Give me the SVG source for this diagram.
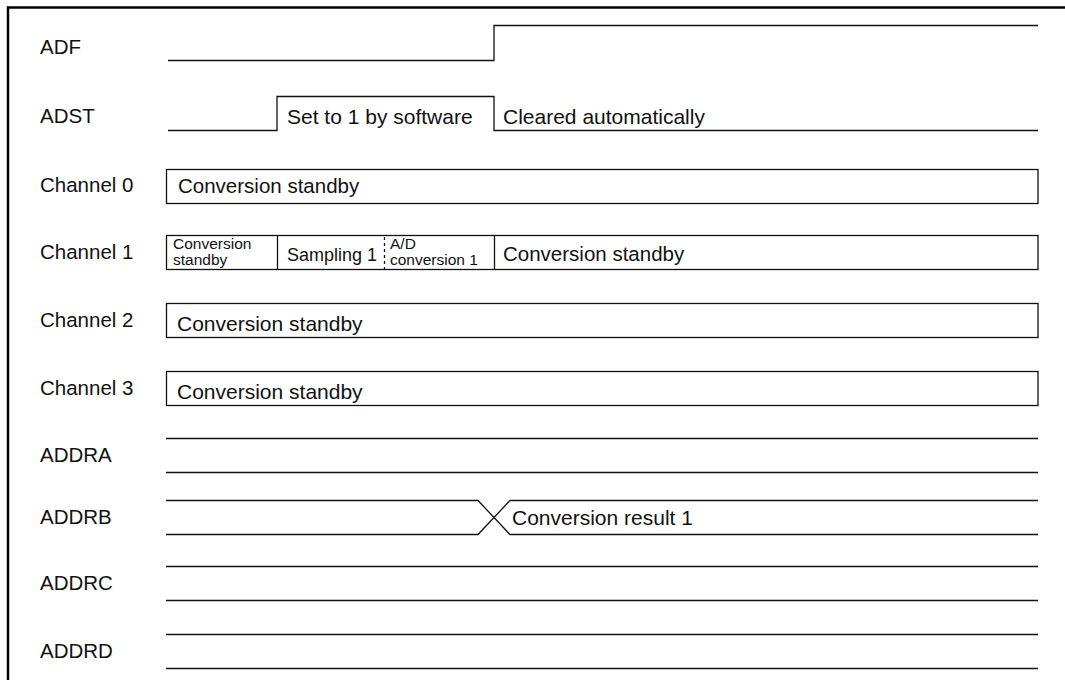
<svg xmlns="http://www.w3.org/2000/svg" width="1065" height="680" viewBox="0 0 1065 680">
<style>
text{font-family:"Liberation Sans",Arial,sans-serif;font-size:20.5px;fill:#111}
.s{font-size:15.5px}
.m{font-size:18px}
.l{font-size:21px}
.w{fill:none;stroke:#111;stroke-width:1.3}
.b{fill:#fff;stroke:#111;stroke-width:1.3}
</style>
<rect width="1065" height="680" fill="#fff"/>
<path d="M8,690 V7.5 H1075" fill="none" stroke="#000" stroke-width="2.5"/>
<g id="labels">
<text x="40" y="54">ADF</text>
<text x="40" y="123">ADST</text>
<text x="40" y="192">Channel 0</text>
<text x="40" y="259">Channel 1</text>
<text x="40" y="327">Channel 2</text>
<text x="40" y="395">Channel 3</text>
<text x="40" y="462">ADDRA</text>
<text x="40" y="524">ADDRB</text>
<text x="40" y="590">ADDRC</text>
<text x="40" y="658">ADDRD</text>
</g>
<g id="connectors">
<path class="w" d="M168,60.5 H494 V25.5 H1038"/>
<path class="w" d="M168,130.5 H277 V96.5 H494 V130.5 H1038"/>
</g>
<g id="adst">
<text class="l" x="287" y="124">Set to 1 by software</text>
<text class="l" x="503" y="124">Cleared automatically</text>
</g>
<g id="ch0">
<rect class="b" x="166.5" y="169.5" width="871.5" height="34"/>
<text x="178" y="193">Conversion standby</text>
</g>
<g id="ch1">
<rect class="b" x="166.5" y="235.5" width="871.5" height="34"/>
<path class="w" d="M277.5,235.5 V269.5 M494.5,235.5 V269.5"/>
<path class="w" d="M384.5,237 V269.5" stroke-dasharray="3,3"/>
<text class="s" x="173" y="249">Conversion</text>
<text class="s" x="173" y="265">standby</text>
<text class="m" x="287" y="261">Sampling 1</text>
<text class="s" x="390" y="249">A/D</text>
<text class="s" x="390" y="265">conversion 1</text>
<text x="503" y="261">Conversion standby</text>
</g>
<g id="ch2">
<rect class="b" x="166.5" y="303.5" width="871.5" height="34"/>
<text class="l" x="177" y="331">Conversion standby</text>
</g>
<g id="ch3">
<rect class="b" x="166.5" y="371.5" width="871.5" height="34"/>
<text class="l" x="177" y="399">Conversion standby</text>
</g>
<g id="addra">
<path class="w" d="M166,438.5 H1038 M166,472.5 H1038"/>
</g>
<g id="addrb">
<path class="w" d="M166,500.5 H478 L510,534.5 H1038 M166,534.5 H478 L510,500.5 H1038"/>
<text class="l" x="512" y="525">Conversion result 1</text>
</g>
<g id="addrc">
<path class="w" d="M166,566.5 H1038 M166,600.5 H1038"/>
</g>
<g id="addrd">
<path class="w" d="M166,634.5 H1038 M166,668.5 H1038"/>
</g>
</svg>
